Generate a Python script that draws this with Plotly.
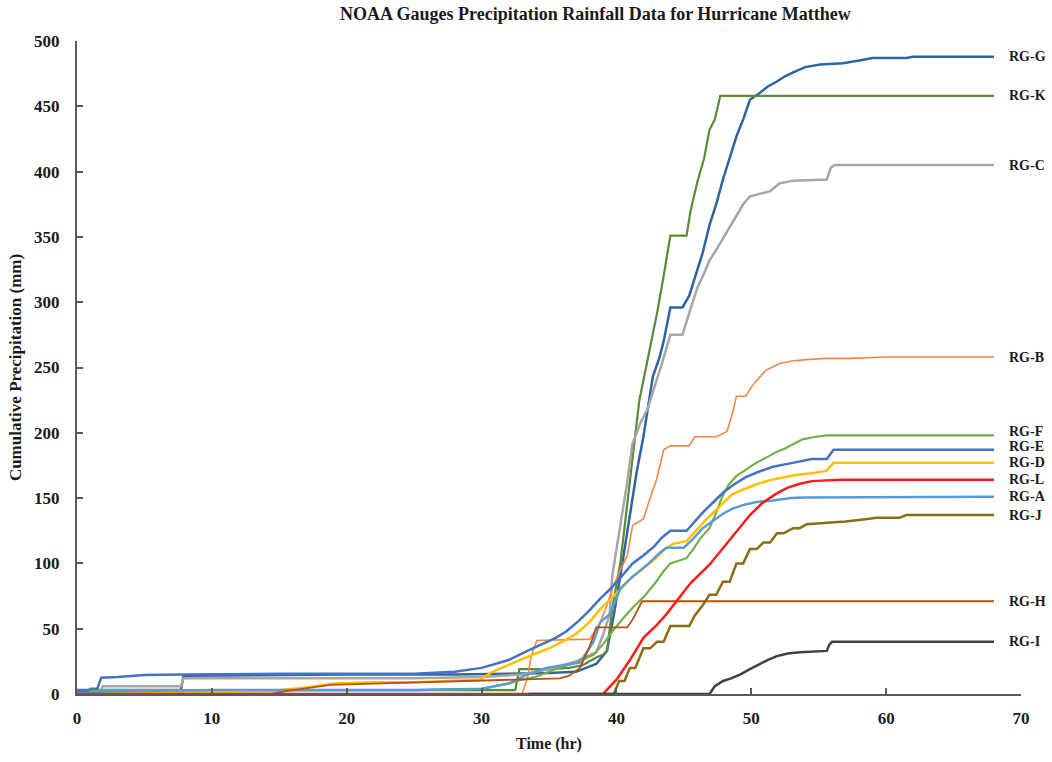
import plotly.graph_objects as go

# ---------------- data (time in hr, cumulative precipitation in mm) ----------------
g_t = [0, 7.7, 7.9, 12, 20, 28, 32, 35, 37, 38.5, 39.3, 39.8, 40.3, 41.0, 41.5, 42.0, 42.7, 43.2, 43.5, 44.0, 44.9, 45.4, 46.0, 46.4, 46.9, 47.4, 47.9, 48.4, 48.9, 49.4, 49.9, 50.6, 51.2, 51.9, 52.5, 53.1, 54.0, 55.1, 56.8, 58.0, 59.0, 61.5, 62.0, 68.0]
g_v = [3, 3, 14, 14.5, 15, 15, 15.5, 16, 17, 23, 33, 60, 91, 139, 170, 197, 243, 258, 270, 296, 296, 305, 326, 338, 359, 375, 394, 410, 427, 440, 455, 460, 465, 469, 473, 476, 480, 482, 483, 485, 487, 487, 488, 488]

k_t = [0, 32.5, 32.8, 35, 36.5, 37.5, 38.5, 39.0, 39.3, 39.7, 40.3, 40.8, 41.2, 41.7, 41.9, 42.5, 43.0, 43.5, 44.0, 45.2, 45.5, 46.0, 46.5, 46.9, 47.3, 47.7, 68]
k_v = [3, 3, 19, 19, 20, 22, 28, 30, 33, 66, 101, 145, 180, 225, 235, 265, 291, 320, 351, 351, 370, 392, 410, 432, 440, 458, 458]

c_t = [0, 1.7, 1.9, 7.7, 7.9, 15, 25, 30, 33, 35, 37, 38.5, 39.0, 39.5, 39.7, 40.3, 40.8, 41.2, 41.8, 42.3, 43.0, 43.4, 44.0, 44.9, 45.5, 46.0, 46.5, 46.9, 47.4, 47.9, 48.4, 48.9, 49.4, 49.9, 50.6, 51.4, 52.1, 53.1, 55.6, 55.9, 56.2, 68]
c_v = [0, 0, 6, 6, 12, 12, 12, 13, 15, 19, 25, 32, 45, 61, 91, 130, 162, 192, 208, 218, 240, 254, 275, 275, 295, 311, 322, 332, 340, 349, 358, 367, 375, 381, 383, 385, 391, 393, 394, 403, 405, 405]

b_t = [0, 33.0, 33.4, 33.7, 34.1, 38.0, 38.4, 38.8, 39.3, 39.7, 40.3, 40.8, 41.2, 42.0, 42.5, 43.0, 43.5, 44.0, 45.4, 45.8, 47.4, 48.2, 48.6, 48.9, 49.6, 50.0, 50.4, 51.1, 52.1, 53.0, 54.1, 55.5, 57.3, 60, 68]
b_v = [0, 0, 12, 30, 41, 42, 48, 55, 68, 81, 95, 106, 129, 134, 150, 165, 187, 190, 190, 197, 197, 201, 215, 228, 228, 235, 240, 248, 253, 255, 256, 257, 257, 258, 258]

f_t = [0, 2, 10, 25, 30, 31, 32, 33, 34, 35, 36, 37, 37.6, 38.3, 39.0, 39.7, 40.5, 41.2, 42.0, 42.8, 43.5, 44.0, 45.2, 45.7, 46.2, 46.9, 47.4, 47.8, 48.3, 48.9, 49.5, 50.2, 51.1, 51.8, 52.5, 53.2, 53.8, 54.8, 55.6, 68]
f_v = [1, 3, 3, 3, 4, 6, 8, 11, 13, 17, 21, 24, 27, 30, 38, 48, 58, 66, 74, 84, 94, 100, 104, 111, 119, 127, 139, 150, 160, 167, 171, 176, 181, 185, 188, 192, 195, 197, 198, 198]

e_t = [0, 0.8, 1.0, 1.5, 1.8, 3, 5, 8, 15, 25, 28, 30, 31, 32, 33.4, 34.5, 35.5, 36.3, 37.2, 38.0, 38.8, 39.5, 40.3, 41.2, 42.0, 42.8, 43.4, 44.0, 45.2, 45.8, 46.5, 47.2, 48.0, 48.8, 49.6, 50.5, 51.6, 52.6, 53.5, 54.5, 55.6, 56.1, 68]
e_v = [2, 2.5, 4, 4, 12.5, 13, 14.5, 15, 15.5, 15.5, 17, 20, 23, 26, 33, 38, 43, 48, 56, 64, 73, 80, 89, 100, 106, 113, 120, 125, 125, 132, 140, 147, 155, 161, 166, 170, 174, 176, 178, 180, 180, 187, 187]

d_t = [0, 2, 14, 17, 19, 22, 25, 28, 29.9, 30.8, 31.9, 33, 34, 35, 36, 37, 38, 38.8, 39.6, 40.4, 41.2, 42, 42.8, 43.5, 44.2, 45.2, 45.8, 46.5, 47.2, 48.0, 48.6, 49.5, 50.5, 51.5, 52.5, 53.5, 54.5, 55.6, 56.1, 68]
d_v = [0, 1, 2, 5, 8, 9, 9, 10, 11, 17, 22, 27, 31, 35, 40, 46, 55, 65, 73, 81, 90, 96, 103, 110, 115, 117, 124, 132, 139, 147, 153, 157, 161, 164, 166, 168, 169, 171, 177, 177]

a_t = [0, 2, 10, 25, 30, 32, 33.4, 34.8, 36.0, 37.3, 38.3, 38.8, 39.5, 40.3, 41.0, 41.8, 42.5, 43.2, 43.7, 45.0, 45.7, 46.4, 47.2, 47.9, 48.6, 49.5, 50.4, 51.5, 52.9, 54, 68]
a_v = [0, 2, 3, 3, 4, 8, 15, 20, 22, 24, 40, 55, 61, 81, 88, 95, 101, 108, 112, 112, 119, 127, 133, 138, 142, 145, 147, 148, 150, 150.5, 151]

j_t = [39.0, 39.8, 40.2, 40.6, 41.0, 41.4, 42.0, 42.5, 43.0, 43.5, 44.0, 45.4, 45.8, 46.4, 46.9, 47.4, 47.9, 48.4, 48.9, 49.4, 49.9, 50.4, 50.9, 51.4, 51.9, 52.4, 53.1, 53.6, 54.1, 56.0, 57.0, 58.6, 59.3, 61.0, 61.5, 68]
j_v = [0, 0, 10, 10, 20, 20, 35, 35, 40, 40, 52, 52, 60, 68, 76, 76, 86, 86, 100, 100, 111, 111, 116, 116, 123, 123, 127, 127, 130, 131, 132, 134, 135, 135, 137, 137]

h_t = [0, 14.3, 16, 18.8, 22, 26, 29.9, 33, 35.8, 36.5, 37.3, 38.0, 38.5, 40.8, 41.2, 41.5, 41.9, 68]
h_v = [0, 0, 3, 7, 8, 9, 10, 11, 12, 14, 20, 36, 51, 51, 57, 63, 71, 71]

i_t = [33.5, 46.9, 47.3, 47.9, 48.5, 49.2, 49.9, 50.6, 51.2, 51.9, 52.7, 53.6, 55.6, 55.8, 56.0, 68]
i_v = [0, 0, 6, 10, 12, 15, 19, 23, 26, 29, 31, 32, 33, 38, 40, 40]

l_t = [0, 39.0, 40.0, 41.0, 42.0, 43.0, 43.7, 44.5, 45.5, 46.9, 48.0, 49.0, 49.9, 50.8, 51.8, 52.7, 53.6, 54.5, 55.5, 56.6, 58, 68]
l_v = [0, 0, 11, 26, 43, 53, 61, 72, 85, 99, 113, 126, 137, 146, 153, 158, 161, 163, 163.5, 164, 164, 164]

names = ["RG-G", "RG-K", "RG-C", "RG-B", "RG-F", "RG-E", "RG-D", "RG-A", "RG-J", "RG-H", "RG-L", "RG-I"]
times = [g_t, k_t, c_t, b_t, f_t, e_t, d_t, a_t, j_t, h_t, l_t, i_t]
values = [g_v, k_v, c_v, b_v, f_v, e_v, d_v, a_v, j_v, h_v, l_v, i_v]
colors = ["#2E64A0", "#5A8A3A", "#A6A6A6", "#F0874A", "#72B04A", "#4472C4",
          "#FFC000", "#5B9BD5", "#8C6D14", "#B9500F", "#FF1A1A", "#404040"]
widths = [2.5, 2.2, 2.5, 1.6, 2.2, 2.5, 2.5, 2.5, 2.5, 1.8, 2.5, 2.5]
label_y = {"RG-F": 201, "RG-E": 189.5, "RG-D": 177}

font_family = "Liberation Serif, Times New Roman, serif"

fig = go.Figure()
for n, t, v, c, w in zip(names, times, values, colors, widths):
    fig.add_trace(go.Scatter(x=t, y=v, mode="lines", name=n,
                             line=dict(color=c, width=w), showlegend=False,
                             cliponaxis=False))

for n, v in zip(names, values):
    fig.add_annotation(x=68, y=label_y.get(n, v[-1]), xref="x", yref="y",
                       text=n, showarrow=False, xanchor="left", xshift=13,
                       font=dict(family=font_family, size=14, color="#1a1a1a", weight="bold"))

fig.update_layout(
    width=1052, height=762,
    margin=dict(l=77, r=31, t=41, b=62),
    paper_bgcolor="white", plot_bgcolor="white",
    title=dict(text="NOAA Gauges Precipitation Rainfall Data for Hurricane Matthew",
               x=0.566, xanchor="center", y=0.982, yanchor="middle",
               font=dict(family=font_family, size=18, color="#1a1a1a", weight="bold")),
    font=dict(family=font_family, color="#1a1a1a"),
)
fig.update_xaxes(range=[0, 70], tickvals=[0, 10, 20, 30, 40, 50, 60, 70],
                 showgrid=False, zeroline=False, showline=True, linecolor="#595959", linewidth=2,
                 ticks="inside", ticklen=6, tickcolor="#595959", tickwidth=1.5,
                 ticklabelstandoff=8,
                 tickfont=dict(family=font_family, size=17, color="#1a1a1a", weight="bold"),
                 title=dict(text="Time (hr)", standoff=10,
                            font=dict(family=font_family, size=16, color="#1a1a1a", weight="bold")))
fig.update_yaxes(range=[0, 500], tickvals=[0, 50, 100, 150, 200, 250, 300, 350, 400, 450, 500],
                 showgrid=False, zeroline=False, showline=True, linecolor="#595959", linewidth=2,
                 ticks="inside", ticklen=6, tickcolor="#595959", tickwidth=1.5,
                 ticklabelstandoff=12,
                 tickfont=dict(family=font_family, size=17, color="#1a1a1a", weight="bold"),
                 title=dict(text="Cumulative Precipitation (mm)", standoff=8,
                            font=dict(family=font_family, size=17, color="#1a1a1a", weight="bold")))

fig.write_html("out.html")
